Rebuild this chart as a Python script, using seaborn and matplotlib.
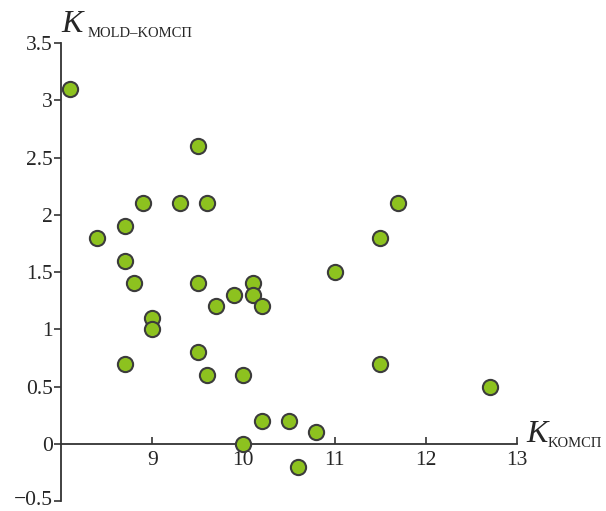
import pandas as pd
import matplotlib
matplotlib.use("Agg")
import matplotlib.pyplot as plt
import matplotlib.transforms as mtransforms
import seaborn as sns

# values
k_komsp = [8.1, 8.4, 8.7, 8.7, 8.8, 8.9, 9.0, 9.0, 8.7, 9.3, 9.5, 9.6, 9.5, 9.5, 9.6, 9.7,
           9.9, 10.1, 10.1, 10.2, 10.0, 10.0, 10.2, 10.5, 10.8, 10.6, 11.0, 11.5, 11.7, 11.5, 12.7]
k_mold = [3.1, 1.8, 1.9, 1.6, 1.4, 2.1, 1.1, 1.0, 0.7, 2.1, 2.6, 2.1, 1.4, 0.8, 0.6, 1.2,
          1.3, 1.4, 1.3, 1.2, 0.6, 0.0, 0.2, 0.2, 0.1, -0.2, 1.5, 1.8, 2.1, 0.7, 0.5]

x_ticks = [9, 10, 11, 12, 13]
y_ticks = [-0.5, 0, 0.5, 1, 1.5, 2, 2.5, 3, 3.5]
y_tick_labels = ["\u22120.5", "0", "0.5", "1", "1.5", "2", "2.5", "3", "3.5"]

df = pd.DataFrame({"x": k_komsp, "y": k_mold})

sns.set_style("white")
plt.rcParams["font.family"] = ["Liberation Serif", "DejaVu Serif"]

W, H = 606, 511
fig = plt.figure(figsize=(W / 100, H / 100), dpi=100)
ax = fig.add_axes([61 / W, (H - 501) / H, (517 - 61) / W, (501 - 43) / H])

sns.scatterplot(data=df, x="x", y="y", ax=ax, s=120, color="#8dc21f",
                edgecolor="#3c3c3c", linewidth=1.5, zorder=3, clip_on=False)

ax.set_xlim(8, 13)
ax.set_ylim(-0.5, 3.5)
ax.set_xticks(x_ticks)
ax.set_yticks(y_ticks)
ax.set_yticklabels(y_tick_labels)
ax.set_xlabel("")
ax.set_ylabel("")

# spines: y axis on the left, x axis crossing at zero
ax.spines["right"].set_visible(False)
ax.spines["top"].set_visible(False)
ax.spines["bottom"].set_position(("data", 0))
for sp in ["left", "bottom"]:
    ax.spines[sp].set_color("#333333")
    ax.spines[sp].set_linewidth(1.3)

ax.tick_params(axis="y", direction="out", length=5, width=1.2, color="#333333",
               labelsize=15.5, pad=1, left=True)
ax.tick_params(axis="x", direction="in", length=5, width=1.2, color="#333333",
               labelsize=15.5, pad=5, bottom=True)

# lift the lowest label a little so it stays inside the image
low = ax.get_yticklabels()[0]
low.set_transform(low.get_transform() + mtransforms.ScaledTranslation(0, 3 / 100, fig.dpi_scale_trans))

# axis titles: italic K with small subscripts
fig.text(61 / W, 1 - 32 / H, "K", fontsize=23, style="italic", va="baseline", ha="left")
fig.text(88 / W, 1 - 37 / H, "MOLD\u2013KOMC\u041f", fontsize=10.5, va="baseline", ha="left")
fig.text(526 / W, 1 - 442 / H, "K", fontsize=23, style="italic", va="baseline", ha="left")
fig.text(548 / W, 1 - 447 / H, "KOMC\u041f", fontsize=10.5, va="baseline", ha="left")

fig.savefig("out.png", dpi=100, facecolor="white")
